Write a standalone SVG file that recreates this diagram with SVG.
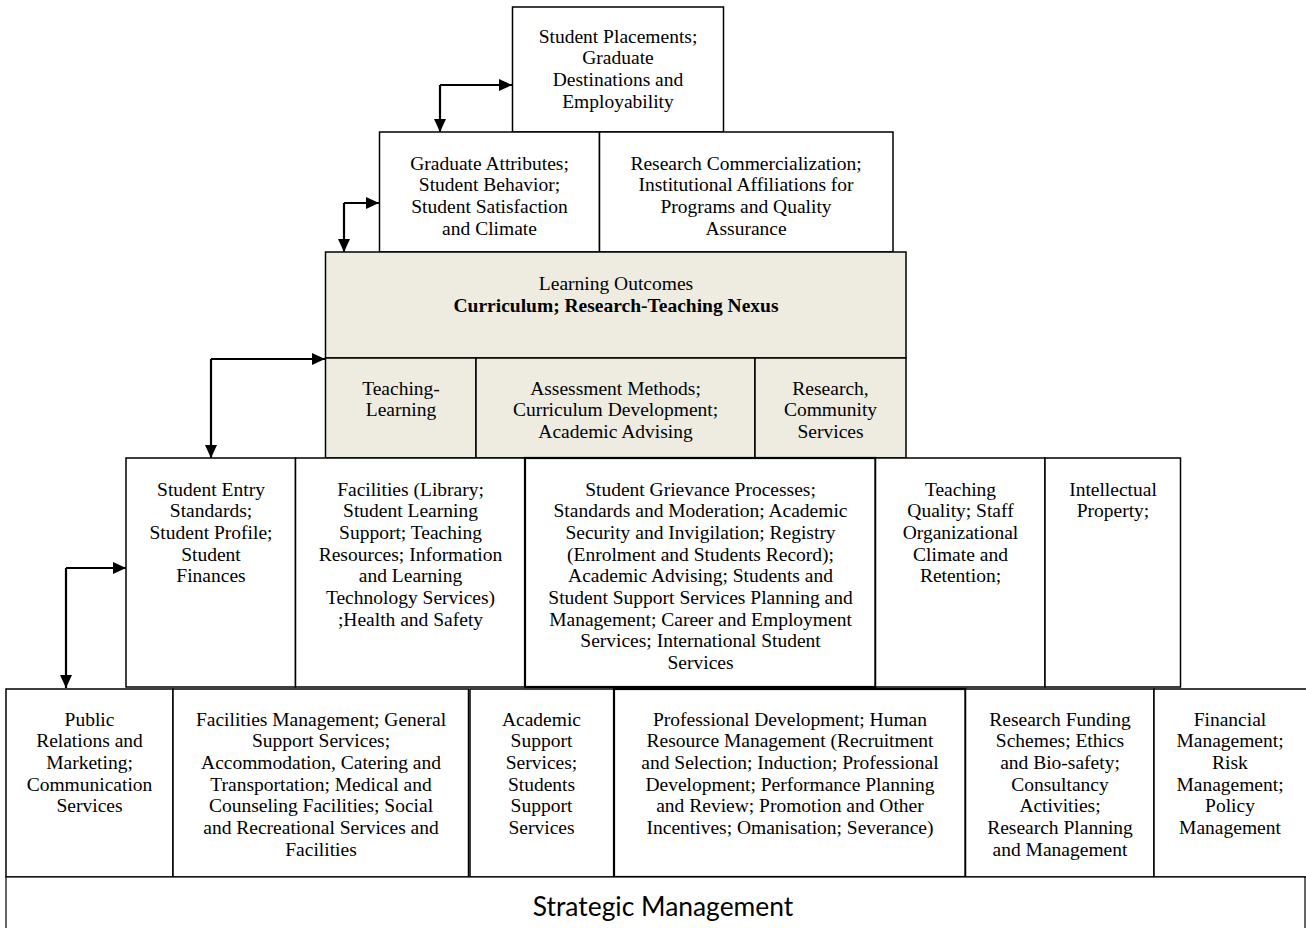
<svg xmlns="http://www.w3.org/2000/svg" width="1306" height="928" viewBox="0 0 1306 928">
<style>
.b{fill:#fff;stroke:#000;stroke-width:1.5}
.s{fill:#EEECE1;stroke:#000;stroke-width:1.5}
.k{stroke-width:2.2}
.t{font-family:"Liberation Serif","Times New Roman",serif;font-size:19.5px;text-anchor:middle;fill:#000}
.bo{font-weight:bold}
.sm{font-family:Lato,"Open Sans",sans-serif;font-size:26.4px;text-anchor:middle;fill:#000}
.c{fill:none;stroke:#000;stroke-width:2.2}
</style>
<defs>
<marker id="ah" markerUnits="userSpaceOnUse" markerWidth="13" markerHeight="12" refX="13" refY="6" orient="auto">
<path d="M0,0 L13,6 L0,12 z" fill="#000"/>
</marker>
</defs>
<rect width="1306" height="928" fill="#fff"/>

<g id="top">
<rect class="b" x="512.5" y="7" width="211" height="125"/>
<text class="t" x="618" y="42.5">Student Placements;<tspan x="618" dy="21.7">Graduate</tspan><tspan x="618" dy="21.7">Destinations and</tspan><tspan x="618" dy="21.7">Employability</tspan></text>
</g>

<g id="grad-attr">
<rect class="b" x="379.5" y="132" width="220" height="120"/>
<text class="t" x="489.5" y="169.5">Graduate Attributes;<tspan x="489.5" dy="21.7">Student Behavior;</tspan><tspan x="489.5" dy="21.7">Student Satisfaction</tspan><tspan x="489.5" dy="21.7">and Climate</tspan></text>
</g>
<g id="research-comm">
<rect class="b" x="599.5" y="132" width="293.5" height="120"/>
<text class="t" x="746" y="169.5">Research Commercialization;<tspan x="746" dy="21.7">Institutional Affiliations for</tspan><tspan x="746" dy="21.7">Programs and Quality</tspan><tspan x="746" dy="21.7">Assurance</tspan></text>
</g>

<g id="learning-outcomes">
<rect class="s" x="325.5" y="252" width="580.5" height="106"/>
<text class="t" x="616" y="289.5">Learning Outcomes</text>
<text class="t bo" x="616" y="311.5">Curriculum; Research-Teaching Nexus</text>
</g>
<g id="teaching-learning">
<rect class="s" x="325.5" y="358" width="150.5" height="100"/>
<text class="t" x="401" y="394.5">Teaching-<tspan x="401" dy="21.7">Learning</tspan></text>
</g>
<g id="assessment">
<rect class="s" x="476" y="358" width="279" height="100"/>
<text class="t" x="615.5" y="394.5">Assessment Methods;<tspan x="615.5" dy="21.7">Curriculum Development;</tspan><tspan x="615.5" dy="21.7">Academic Advising</tspan></text>
</g>
<g id="research-community">
<rect class="s" x="755" y="358" width="151" height="100"/>
<text class="t" x="830.5" y="394.5">Research,<tspan x="830.5" dy="21.7">Community</tspan><tspan x="830.5" dy="21.7">Services</tspan></text>
</g>

<g id="entry">
<rect class="b" x="126" y="458" width="169.5" height="229"/>
<text class="t" x="211" y="495.5">Student Entry<tspan x="211" dy="21.7">Standards;</tspan><tspan x="211" dy="21.7">Student Profile;</tspan><tspan x="211" dy="21.7">Student</tspan><tspan x="211" dy="21.7">Finances</tspan></text>
</g>
<g id="facilities">
<rect class="b" x="295.5" y="458" width="229.5" height="229"/>
<text class="t" x="410.5" y="495.5">Facilities (Library;<tspan x="410.5" dy="21.7">Student Learning</tspan><tspan x="410.5" dy="21.7">Support; Teaching</tspan><tspan x="410.5" dy="21.7">Resources; Information</tspan><tspan x="410.5" dy="21.7">and Learning</tspan><tspan x="410.5" dy="21.7">Technology Services)</tspan><tspan x="410.5" dy="21.7">;Health and Safety</tspan></text>
</g>
<g id="grievance">
<rect class="b k" x="525" y="458" width="350.5" height="229"/>
<text class="t" x="700.5" y="495.5">Student Grievance Processes;<tspan x="700.5" dy="21.7">Standards and Moderation; Academic</tspan><tspan x="700.5" dy="21.7">Security and Invigilation; Registry</tspan><tspan x="700.5" dy="21.7">(Enrolment and Students Record);</tspan><tspan x="700.5" dy="21.7">Academic Advising; Students and</tspan><tspan x="700.5" dy="21.7">Student Support Services Planning and</tspan><tspan x="700.5" dy="21.7">Management; Career and Employment</tspan><tspan x="700.5" dy="21.7">Services; International Student</tspan><tspan x="700.5" dy="21.7">Services</tspan></text>
</g>
<g id="teaching-quality">
<rect class="b" x="875.5" y="458" width="169.5" height="229"/>
<text class="t" x="960.5" y="495.5">Teaching<tspan x="960.5" dy="21.7">Quality; Staff</tspan><tspan x="960.5" dy="21.7">Organizational</tspan><tspan x="960.5" dy="21.7">Climate and</tspan><tspan x="960.5" dy="21.7">Retention;</tspan></text>
</g>
<g id="ip">
<rect class="b" x="1045" y="458" width="135.5" height="229"/>
<text class="t" x="1113" y="495.5">Intellectual<tspan x="1113" dy="21.7">Property;</tspan></text>
</g>

<g id="pr">
<rect class="b" x="6" y="689" width="167" height="188"/>
<text class="t" x="89.5" y="725.5">Public<tspan x="89.5" dy="21.7">Relations and</tspan><tspan x="89.5" dy="21.7">Marketing;</tspan><tspan x="89.5" dy="21.7">Communication</tspan><tspan x="89.5" dy="21.7">Services</tspan></text>
</g>
<g id="fac-mgmt">
<rect class="b" x="173" y="689" width="295.5" height="188"/>
<text class="t" x="321" y="725.5">Facilities Management; General<tspan x="321" dy="21.7">Support Services;</tspan><tspan x="321" dy="21.7">Accommodation, Catering and</tspan><tspan x="321" dy="21.7">Transportation; Medical and</tspan><tspan x="321" dy="21.7">Counseling Facilities; Social</tspan><tspan x="321" dy="21.7">and Recreational Services and</tspan><tspan x="321" dy="21.7">Facilities</tspan></text>
</g>
<g id="academic-support">
<rect class="b" x="470" y="689" width="144" height="188"/>
<text class="t" x="541.5" y="725.5">Academic<tspan x="541.5" dy="21.7">Support</tspan><tspan x="541.5" dy="21.7">Services;</tspan><tspan x="541.5" dy="21.7">Students</tspan><tspan x="541.5" dy="21.7">Support</tspan><tspan x="541.5" dy="21.7">Services</tspan></text>
</g>
<g id="prof-dev">
<rect class="b k" x="614" y="689" width="351.5" height="188"/>
<text class="t" x="790" y="725.5">Professional Development; Human<tspan x="790" dy="21.7">Resource Management (Recruitment</tspan><tspan x="790" dy="21.7">and Selection; Induction; Professional</tspan><tspan x="790" dy="21.7">Development; Performance Planning</tspan><tspan x="790" dy="21.7">and Review; Promotion and Other</tspan><tspan x="790" dy="21.7">Incentives; Omanisation; Severance)</tspan></text>
</g>
<g id="research-funding">
<rect class="b" x="965.5" y="689" width="188.5" height="188"/>
<text class="t" x="1060" y="725.5">Research Funding<tspan x="1060" dy="21.7">Schemes; Ethics</tspan><tspan x="1060" dy="21.7">and Bio-safety;</tspan><tspan x="1060" dy="21.7">Consultancy</tspan><tspan x="1060" dy="21.7">Activities;</tspan><tspan x="1060" dy="21.7">Research Planning</tspan><tspan x="1060" dy="21.7">and Management</tspan></text>
</g>
<g id="financial">
<rect class="b" x="1154" y="689" width="160" height="188"/>
<text class="t" x="1230" y="725.5">Financial<tspan x="1230" dy="21.7">Management;</tspan><tspan x="1230" dy="21.7">Risk</tspan><tspan x="1230" dy="21.7">Management;</tspan><tspan x="1230" dy="21.7">Policy</tspan><tspan x="1230" dy="21.7">Management</tspan></text>
</g>

<g id="strategic">
<rect x="6" y="877" width="1299" height="60" fill="#fff" stroke="#000" stroke-width="1.2"/>
<text class="sm" x="663" y="916">Strategic Management</text>
</g>

<g id="connectors">
<path class="c" d="M440,85 H512" marker-end="url(#ah)"/>
<path class="c" d="M440,85 V132" marker-end="url(#ah)"/>
<path class="c" d="M344,203 H379" marker-end="url(#ah)"/>
<path class="c" d="M344,203 V252" marker-end="url(#ah)"/>
<path class="c" d="M211,359 H325" marker-end="url(#ah)"/>
<path class="c" d="M211,359 V458" marker-end="url(#ah)"/>
<path class="c" d="M66,568 H126" marker-end="url(#ah)"/>
<path class="c" d="M66,568 V688" marker-end="url(#ah)"/>
</g>
</svg>
